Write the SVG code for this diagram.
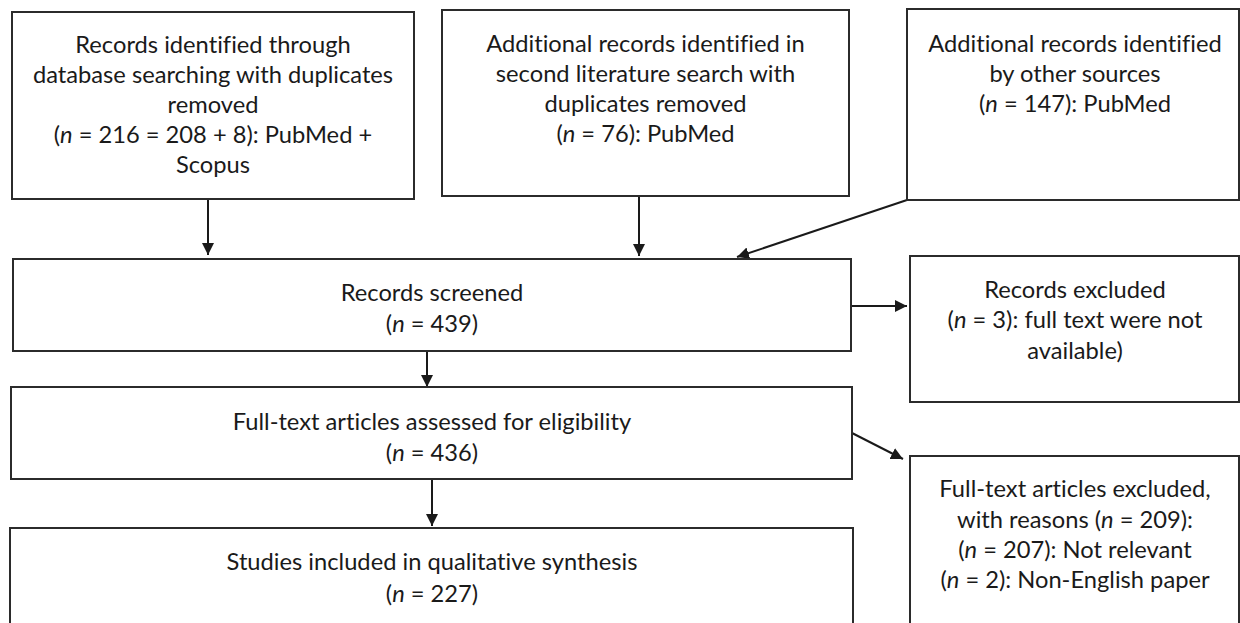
<svg xmlns="http://www.w3.org/2000/svg" width="1240" height="623" viewBox="0 0 1240 623">
<style>
.box{fill:#fff;stroke:#2b2b2b;stroke-width:2}
.t{font-family:Lato,"Liberation Sans",sans-serif;font-size:23.7px;fill:#1a1a1a;text-anchor:middle;font-variant-ligatures:none}
.i{font-style:italic}
.c{stroke:#1a1a1a;stroke-width:2;fill:none}
</style>
<defs>
<marker id="ah" viewBox="0 0 12 12" refX="12" refY="6" markerWidth="12" markerHeight="12" markerUnits="userSpaceOnUse" orient="auto">
<path d="M0,0 L12,6 L0,12 Z" fill="#1a1a1a"/>
</marker>
</defs>
<rect width="1240" height="623" fill="#fff"/>
<g id="connectors">
<line class="c" x1="208" y1="199" x2="208" y2="255" marker-end="url(#ah)"/>
<line class="c" x1="639" y1="196" x2="639" y2="256" marker-end="url(#ah)"/>
<line class="c" x1="907" y1="200" x2="737" y2="257" marker-end="url(#ah)"/>
<line class="c" x1="851" y1="306" x2="907" y2="306" marker-end="url(#ah)"/>
<line class="c" x1="427" y1="351" x2="427" y2="387" marker-end="url(#ah)"/>
<line class="c" x1="852" y1="433" x2="903" y2="459" marker-end="url(#ah)"/>
<line class="c" x1="432" y1="479" x2="432" y2="526" marker-end="url(#ah)"/>
</g>
<g id="n1">
<rect class="box" x="12" y="12" width="402" height="187"/>
<text class="t" x="213" y="53">Records identified through</text>
<text class="t" x="213" y="83">database searching with duplicates</text>
<text class="t" x="213" y="113">removed</text>
<text class="t" x="213" y="143">(<tspan class="i">n</tspan> = 216 = 208 + 8): PubMed +</text>
<text class="t" x="213" y="173">Scopus</text>
</g>
<g id="n2">
<rect class="box" x="442" y="10" width="407" height="186"/>
<text class="t" x="645.5" y="52">Additional records identified in</text>
<text class="t" x="645.5" y="82">second literature search with</text>
<text class="t" x="645.5" y="112">duplicates removed</text>
<text class="t" x="645.5" y="142">(<tspan class="i">n</tspan> = 76): PubMed</text>
</g>
<g id="n3">
<rect class="box" x="907" y="9" width="332" height="191"/>
<text class="t" x="1075" y="52">Additional records identified</text>
<text class="t" x="1075" y="82">by other sources</text>
<text class="t" x="1075" y="112">(<tspan class="i">n</tspan> = 147): PubMed</text>
</g>
<g id="n4">
<rect class="box" x="13" y="259" width="838" height="92"/>
<text class="t" x="432" y="301">Records screened</text>
<text class="t" x="432" y="332">(<tspan class="i">n</tspan> = 439)</text>
</g>
<g id="n5">
<rect class="box" x="910" y="256" width="329" height="146"/>
<text class="t" x="1075" y="298">Records excluded</text>
<text class="t" x="1075" y="328">(<tspan class="i">n</tspan> = 3): full text were not</text>
<text class="t" x="1075" y="359">available)</text>
</g>
<g id="n6">
<rect class="box" x="11" y="387" width="841" height="92"/>
<text class="t" x="432" y="430">Full-text articles assessed for eligibility</text>
<text class="t" x="432" y="461">(<tspan class="i">n</tspan> = 436)</text>
</g>
<g id="n7">
<rect class="box" x="10" y="528" width="843" height="110"/>
<text class="t" x="432" y="570">Studies included in qualitative synthesis</text>
<text class="t" x="432" y="602">(<tspan class="i">n</tspan> = 227)</text>
</g>
<g id="n8">
<rect class="box" x="910" y="456" width="329" height="180"/>
<text class="t" x="1075" y="497">Full-text articles excluded,</text>
<text class="t" x="1075" y="528">with reasons (<tspan class="i">n</tspan> = 209):</text>
<text class="t" x="1075" y="558">(<tspan class="i">n</tspan> = 207): Not relevant</text>
<text class="t" x="1075" y="588">(<tspan class="i">n</tspan> = 2): Non-English paper</text>
</g>
</svg>
